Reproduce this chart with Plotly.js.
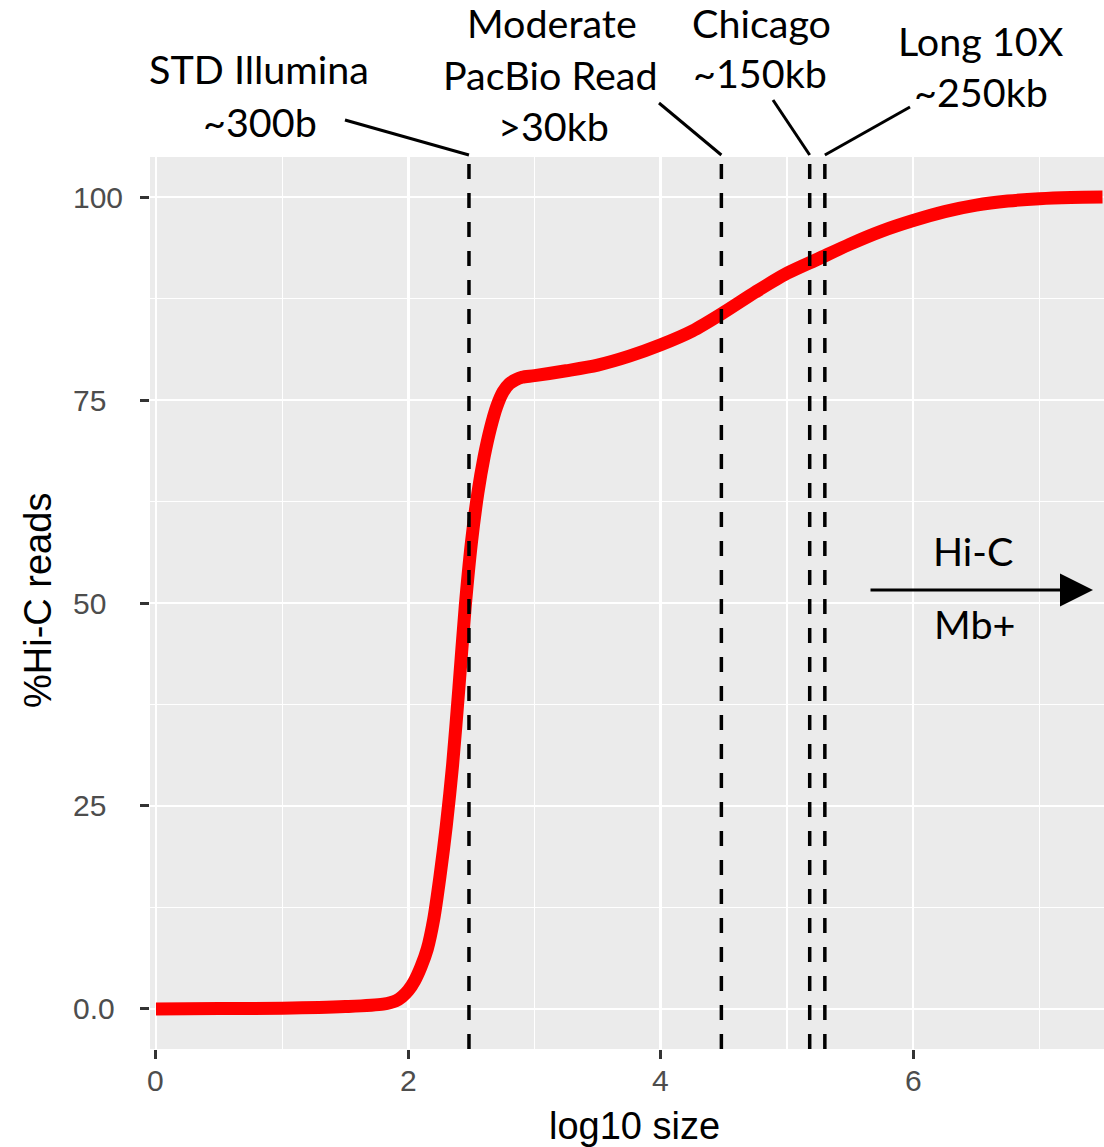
<!DOCTYPE html>
<html>
<head>
<meta charset="utf-8">
<script src="https://cdn.plot.ly/plotly-3.0.1.min.js"></script>
<style>html,body{margin:0;padding:0;background:#fff;overflow:hidden}</style>
</head>
<body>
<div id="chart" style="width:1104px;height:1147px"></div>
<script>
// Curve: log10 size vs %Hi-C reads
const logSize = [0, 0.5, 1.0, 1.5, 1.8, 1.9, 1.95, 2.0, 2.05, 2.1, 2.15, 2.2, 2.25, 2.3, 2.35, 2.4, 2.45, 2.5, 2.55, 2.6, 2.65, 2.7, 2.75, 2.8, 2.85, 2.9, 3.0, 3.25, 3.5, 3.75, 4.0, 4.25, 4.5, 4.75, 5.0, 5.25, 5.5, 5.75, 6.0, 6.25, 6.5, 6.75, 7.0, 7.25, 7.5];
const pctHiC = [0, 0.05, 0.1, 0.3, 0.6, 1.0, 1.5, 2.3, 3.5, 5.2, 7.4, 11, 16.3, 22.5, 30, 39.5, 49.5, 57.5, 63.5, 68, 71.5, 74.2, 76.0, 77.0, 77.5, 77.8, 78.0, 78.6, 79.3, 80.4, 81.8, 83.5, 85.8, 88.3, 90.6, 92.4, 94.2, 95.8, 97.1, 98.2, 99.0, 99.5, 99.8, 99.95, 100];

// Technology reference lines (log10 size)
const techNames = ["STD Illumina", "Moderate PacBio Read", "Chicago", "Long 10X"];
const techLog10 = [2.48, 4.48, 5.18, 5.30];

// Axis ticks
const xTickVals = [0, 2, 4, 6];
const xTickText = ["0", "2", "4", "6"];
const yTickVals = [0, 25, 50, 75, 100];
const yTickText = ["0.0", "25", "50", "75", "100"];

// layout geometry helpers (pixels -> paper)
const W = 1104, H = 1147, L = 150, R = 0, T = 157, B = 98;
const PW = W - L - R, PH = H - T - B;
const px = v => (v - L) / PW;
const py = v => (H - B - v) / PH;
const xr = [-0.0475, 7.512];
const dx = v => xr[0] + (v - L) / PW * (xr[1] - xr[0]);

const labelFont = {family: "Lato, 'Open Sans', sans-serif", size: 39.5, color: "#000"};
const tickFont = {family: "'Liberation Sans', Arial, sans-serif", size: 30, color: "#4D4D4D"};
const titleFont = {family: "'Liberation Sans', Arial, sans-serif", size: 38, color: "#000"};

function lab(text, cx, baseline) {
  return {text: text, xref: "paper", yref: "paper", x: px(cx), y: py(baseline - 15),
          xanchor: "center", yanchor: "middle", showarrow: false, font: labelFont};
}

const annotations = [
  lab("STD Illumina", 259, 84),
  lab("~300b", 260, 137),
  lab("Moderate", 552, 38),
  lab("PacBio Read", 550, 89),
  lab("&gt;30kb", 553, 141),
  lab("Chicago", 761, 37),
  lab("~150kb", 760, 88),
  lab("Long 10X", 981, 55),
  lab("~250kb", 981, 107),
  lab("Hi-C", 973, 565),
  lab("Mb+", 974, 638),
  // Hi-C arrow
  {x: dx(1093), y: 51.6, ax: dx(869), ay: 51.6, xref: "x", yref: "y", axref: "x", ayref: "y",
   text: "", showarrow: true, arrowhead: 2, arrowsize: 2.2, arrowwidth: 3, arrowcolor: "#000", standoff: 0},
  // axis titles
  {text: "log10 size", xref: "paper", yref: "paper", x: px(634), y: py(1126), xanchor: "center", yanchor: "middle",
   showarrow: false, font: titleFont},
  {text: "%Hi-C reads", xref: "paper", yref: "paper", x: px(38), y: py(601), xanchor: "center", yanchor: "middle",
   textangle: -90, showarrow: false, font: titleFont}
];

// y tick labels (left-aligned as in the reference)
yTickVals.forEach((v, i) => {
  annotations.push({text: yTickText[i], xref: "paper", yref: "y", x: px(71), y: v, xanchor: "left", yanchor: "middle",
                    showarrow: false, font: tickFont});
});
// x tick labels
xTickVals.forEach((v, i) => {
  annotations.push({text: xTickText[i], xref: "x", yref: "paper", x: v, y: py(1080), xanchor: "center", yanchor: "middle",
                    showarrow: false, font: tickFont});
});

// leader line start points (pixel positions of label ends)
const leaderStart = [[345, 120], [659, 103], [773, 100], [910, 107]];

const shapes = [];
techLog10.forEach((v, i) => {
  shapes.push({type: "line", xref: "x", yref: "paper", x0: v, x1: v, y0: 0, y1: py(155),
               line: {color: "#000", width: 3.5, dash: "15px,14px"}, layer: "above"});
  shapes.push({type: "line", xref: "x", yref: "paper", x0: dx(leaderStart[i][0]), y0: py(leaderStart[i][1]),
               x1: v, y1: py(155), line: {color: "#000", width: 3}, layer: "above"});
});

const traces = [{
  x: logSize, y: pctHiC, type: "scatter", mode: "lines",
  line: {color: "#ff0000", width: 13, shape: "spline", smoothing: 0.8},
  hoverinfo: "skip", showlegend: false
}];

const axisCommon = {
  showline: false, zeroline: false, ticks: "outside", ticklen: 9, tickwidth: 3, tickcolor: "#333333",
  showticklabels: false,
  showgrid: true, gridcolor: "#FFFFFF", gridwidth: 2.6
};

const layout = {
  width: W, height: H,
  margin: {l: L, r: R, t: T, b: B, pad: 0},
  paper_bgcolor: "#FFFFFF", plot_bgcolor: "#EBEBEB",
  showlegend: false,
  xaxis: Object.assign({}, axisCommon, {
    range: xr, tickmode: "array", tickvals: xTickVals,
    minor: {tickmode: "array", tickvals: [1, 3, 5, 7], showgrid: true, gridcolor: "#FFFFFF", gridwidth: 1.3, ticks: ""}
  }),
  yaxis: Object.assign({}, axisCommon, {
    range: [-4.93, 104.93], tickmode: "array", tickvals: yTickVals,
    minor: {tickmode: "array", tickvals: [12.5, 37.5, 62.5, 87.5], showgrid: true, gridcolor: "#FFFFFF", gridwidth: 1.3, ticks: ""}
  }),
  annotations: annotations,
  shapes: shapes
};

Plotly.newPlot("chart", traces, layout, {staticPlot: true, displayModeBar: false});
</script>
</body>
</html>
